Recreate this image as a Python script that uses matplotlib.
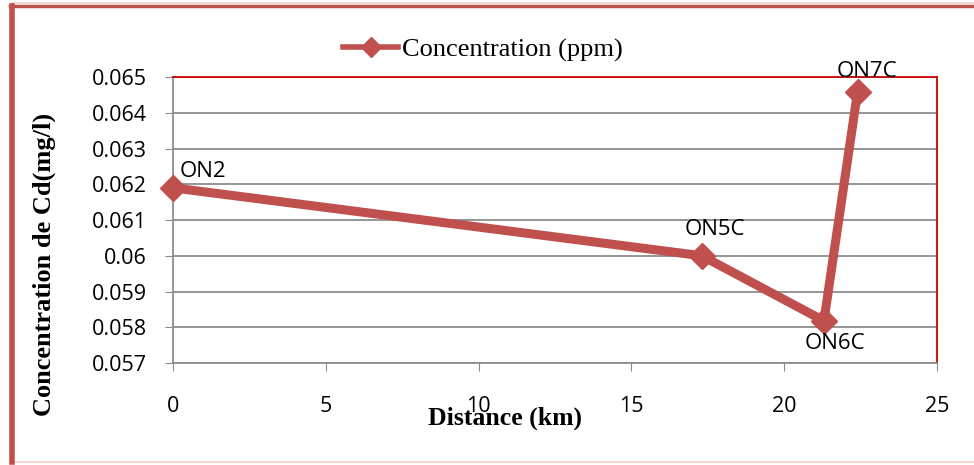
import matplotlib

matplotlib.use("Agg")
import matplotlib.pyplot as plt
from matplotlib.patches import Rectangle
from matplotlib.lines import Line2D

# data
stations = ["ON2", "ON5C", "ON6C", "ON7C"]
distance_km = [0.0, 17.3, 21.3, 22.4]
cd_ppm = [0.06190, 0.06000, 0.05818, 0.06458]

RED = "#C0504D"
GRID = "#8c8c8c"

fig = plt.figure(figsize=(9.74, 4.65), dpi=100)

# outer frame of the chart
fig.patches.append(Rectangle((12 / 974, 3 / 465), 1.2, 459 / 465, transform=fig.transFigure,
                             fill=False, edgecolor="#f2cfcf", lw=1.2, zorder=0))
fig.add_artist(Line2D([12 / 974, 12 / 974], [3 / 465, 459 / 465], color=RED, lw=4,
                      transform=fig.transFigure))
fig.add_artist(Line2D([10 / 974, 1.0], [459 / 465, 459 / 465], color=RED, lw=2.5,
                      transform=fig.transFigure))

ax = fig.add_axes([173 / 974, 1 - 363 / 465, (937 - 173) / 974, (363 - 77) / 465])
ax.plot(distance_km, cd_ppm, color=RED, lw=6.5, marker="D", ms=13, zorder=3,
        solid_joinstyle="miter", clip_on=False)

ax.set_xlim(0, 25)
ax.set_ylim(0.057, 0.065)
ax.set_xticks([0, 5, 10, 15, 20, 25])
ax.set_yticks([0.057, 0.058, 0.059, 0.060, 0.061, 0.062, 0.063, 0.064, 0.065])
ax.set_yticklabels(["0.057", "0.058", "0.059", "0.06", "0.061", "0.062", "0.063", "0.064", "0.065"])
ax.yaxis.grid(True, color=GRID, lw=1.3)
ax.set_axisbelow(True)

ax.spines["top"].set_color("#cc0000")
ax.spines["right"].set_color("#cc0000")
ax.spines["left"].set_color(GRID)
ax.spines["bottom"].set_color(GRID)
for s in ax.spines.values():
    s.set_linewidth(1.3)

ax.tick_params(axis="x", direction="out", length=6, color=GRID, pad=18, labelsize=15.5)
ax.tick_params(axis="y", direction="out", length=6, color=GRID, pad=13, labelsize=15.5)
for lab in ax.get_xticklabels() + ax.get_yticklabels():
    lab.set_fontfamily("Open Sans")

# point labels
offsets = {"ON2": (5, 12), "ON5C": (-12, 19), "ON6C": (-14, -16.5), "ON7C": (-15, 15)}
for name, x, y in zip(stations, distance_km, cd_ppm):
    dx, dy = offsets[name]
    ax.annotate(name, (x, y), xytext=(dx, dy), textcoords="offset points",
                fontsize=16, family="Open Sans", va="center", ha="left")

ax.set_ylabel("Concentration de Cd(mg/l)", family="Liberation Serif", fontweight="bold",
              fontsize=19)
ax.yaxis.set_label_coords(-0.153, 0.346)
fig.text(505 / 974, 1 - 418 / 465, "Distance (km)", family="Liberation Serif",
         fontweight="bold", fontsize=18.5, ha="center", va="center")

# legend
handle = Line2D([], [], color=RED, lw=4, marker="D", ms=10)
ax.legend([handle], ["Concentration (ppm)"], loc="center left",
          bbox_to_anchor=(0.2225, 1 + 27 / 286), frameon=False,
          prop={"family": "Liberation Serif", "size": 19},
          handlelength=2.1, handletextpad=0.15, borderpad=0, borderaxespad=0)

fig.savefig("out.png", dpi=100)
